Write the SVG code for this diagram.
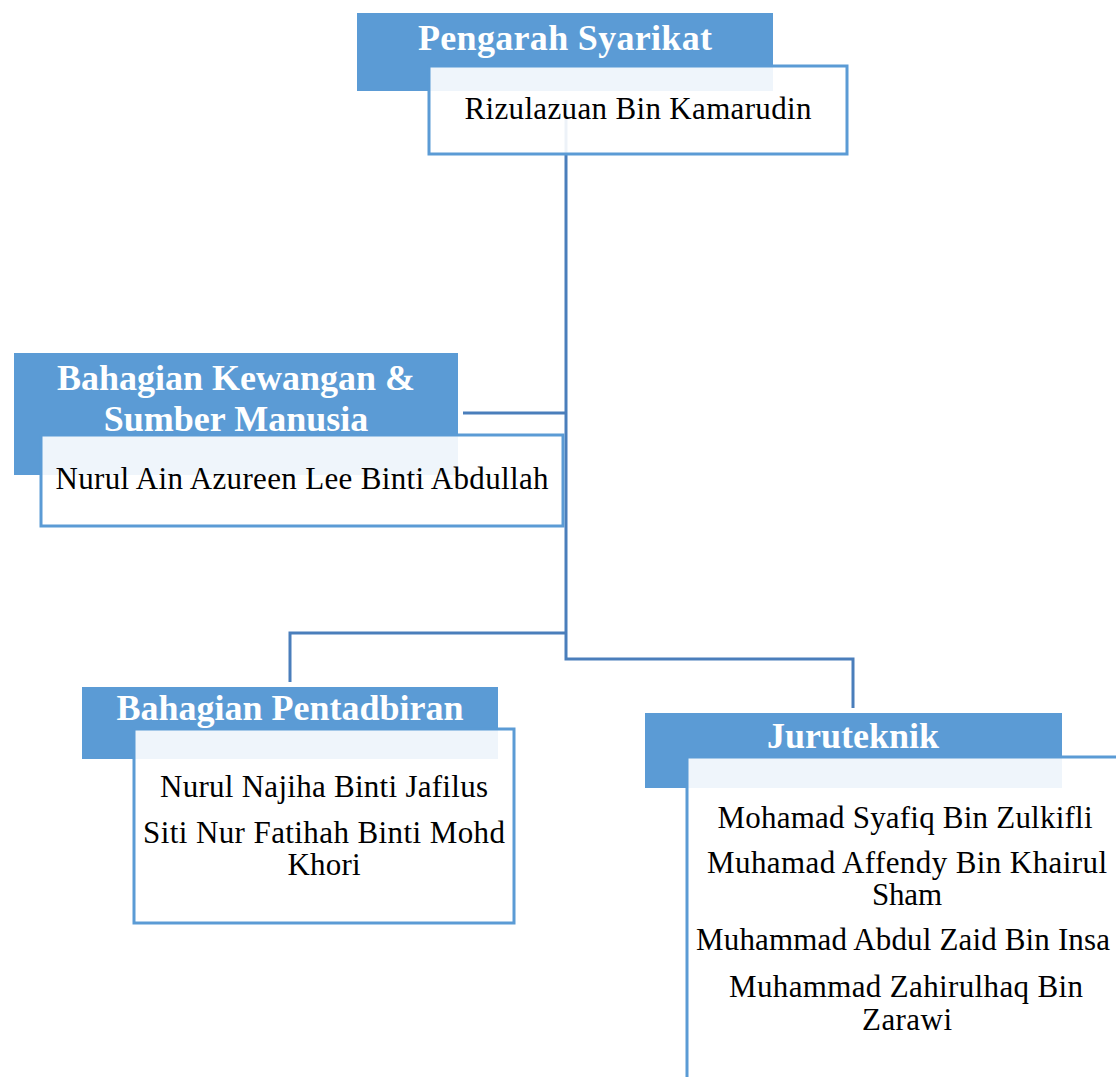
<svg xmlns="http://www.w3.org/2000/svg" width="1116" height="1077" viewBox="0 0 1116 1077">
<style>
.hdr{fill:#5b9bd5}
.box{fill:#ffffff;fill-opacity:0.9;stroke:#5b9bd5;stroke-width:3}
.conn{fill:none;stroke:#4a7ebb;stroke-width:3}
.ht{font-family:"Liberation Serif","Times New Roman",serif;font-weight:bold;font-size:36px;fill:#ffffff;text-anchor:middle}
.nt{font-family:"Liberation Serif","Times New Roman",serif;font-size:31px;fill:#000000;text-anchor:middle}
</style>
<rect width="1116" height="1077" fill="#ffffff"/>
<g id="connectors">
<path class="conn" d="M566 100 V659 H853 V708"/>
<path class="conn" d="M566 633 H290 V682"/>
<path class="conn" d="M463 413 H566"/>
</g>
<g id="node-pengarah">
<rect class="hdr" x="357" y="13" width="416" height="78"/>
<rect class="box" x="429" y="66" width="418" height="88"/>
<text class="ht" x="565" y="50" textLength="294">Pengarah Syarikat</text>
<text class="nt" x="638" y="119" textLength="347">Rizulazuan Bin Kamarudin</text>
</g>
<g id="node-kewangan">
<rect class="hdr" x="14" y="353" width="444" height="122"/>
<rect class="box" x="41" y="435" width="522" height="91"/>
<text class="ht" x="236" y="390">Bahagian Kewangan &amp;</text>
<text class="ht" x="236" y="431">Sumber Manusia</text>
<text class="nt" x="302" y="489" textLength="493">Nurul Ain Azureen Lee Binti Abdullah</text>
</g>
<g id="node-pentadbiran">
<rect class="hdr" x="82" y="687" width="416" height="72"/>
<rect class="box" x="134" y="729" width="380" height="194"/>
<text class="ht" x="290" y="720">Bahagian Pentadbiran</text>
<text class="nt" x="324" y="797" textLength="328">Nurul Najiha Binti Jafilus</text>
<text class="nt" x="324" y="843" textLength="362">Siti Nur Fatihah Binti Mohd</text>
<text class="nt" x="324" y="875" textLength="73">Khori</text>
</g>
<g id="node-juruteknik">
<rect class="hdr" x="645" y="713" width="417" height="75"/>
<rect class="box" x="687" y="757" width="440" height="340"/>
<text class="ht" x="853" y="748">Juruteknik</text>
<text class="nt" x="905" y="828" textLength="375">Mohamad Syafiq Bin Zulkifli</text>
<text class="nt" x="907" y="873" textLength="400">Muhamad Affendy Bin Khairul</text>
<text class="nt" x="907" y="905" textLength="70">Sham</text>
<text class="nt" x="696" y="950" style="text-anchor:start" textLength="414">Muhammad Abdul Zaid Bin Insa</text>
<text class="nt" x="906" y="997" textLength="354">Muhammad Zahirulhaq Bin</text>
<text class="nt" x="907" y="1030" textLength="90">Zarawi</text>
</g>
</svg>
